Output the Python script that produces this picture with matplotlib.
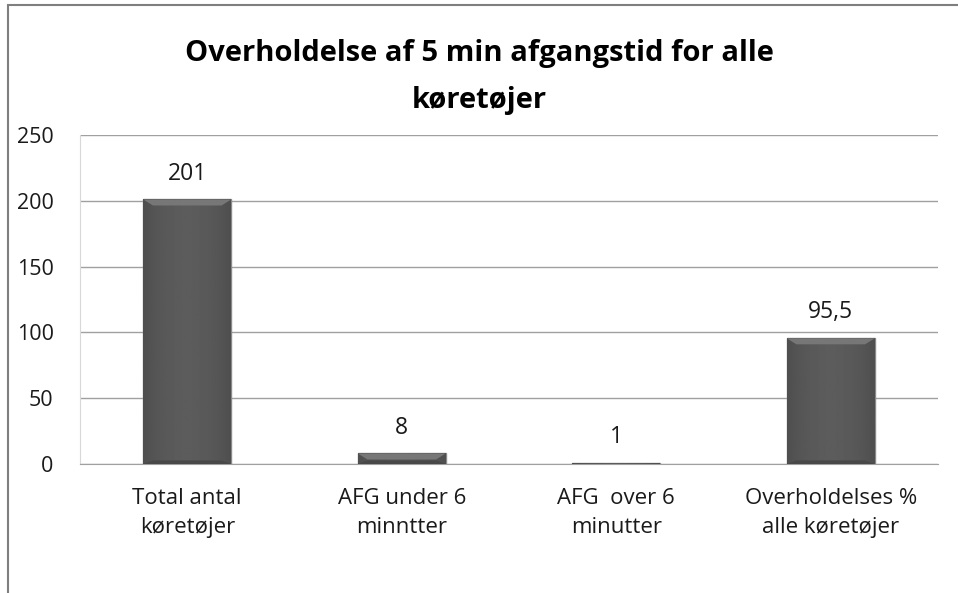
import matplotlib
matplotlib.use("Agg")
import matplotlib.pyplot as plt
from matplotlib.patches import Rectangle
import numpy as np

categories = ["Total antal\nkøretøjer", "AFG under 6\nminntter", "AFG  over 6\nminutter", "Overholdelses %\nalle køretøjer"]
values = [201, 8, 1, 95.5]
value_labels = ["201", "8", "1", "95,5"]
yticks = [0, 50, 100, 150, 200, 250]
title = "Overholdelse af 5 min afgangstid for alle\nkøretøjer"

plt.rcParams['font.family'] = ['Open Sans', 'DejaVu Sans']

fig = plt.figure(figsize=(9.58, 5.93), dpi=100)
ax = fig.add_axes([80/958, 1-464/593, 858/958, (464-135)/593])

x = list(range(len(values)))
bars = ax.bar(x, values, width=0.41, color="#5a5a5a", edgecolor="#8a8a8a", linewidth=1.0, zorder=3)

# horizontal gradient shading inside bars (darker edges, lighter middle)
grad = np.linspace(-1, 1, 64)
shade = 0.36 - 0.05 * np.abs(grad) ** 2
img = np.tile(shade, (2, 1))
for b in bars:
    x0, w, h = b.get_x(), b.get_width(), b.get_height()
    im = ax.imshow(img, cmap="gray", vmin=0, vmax=1, extent=[x0, x0 + w, 0, h],
                   aspect="auto", zorder=3.5, interpolation="bilinear")
    im.set_clip_path(b)
    if h > 3:
        bev = 6 * 250 / 329  # ~6 px in data units
        bx = 0.045
        top = plt.Polygon([[x0, h], [x0 + w, h], [x0 + w - bx, h - bev], [x0 + bx, h - bev]],
                          closed=True, facecolor="#777777", edgecolor="none", zorder=3.6)
        ax.add_patch(top)
        bot = plt.Polygon([[x0, 0], [x0 + w, 0], [x0 + w - bx, bev * 0.6], [x0 + bx, bev * 0.6]],
                          closed=True, facecolor="#484848", edgecolor="none", zorder=3.6)
        ax.add_patch(bot)

for b, lab in zip(bars, value_labels):
    ax.annotate(lab, (b.get_x() + b.get_width()/2, b.get_height()), xytext=(0, 10),
                textcoords="offset points", ha="center", va="bottom", fontsize=16.5, color="#1a1a1a")

ax.set_xlim(-0.5, len(values) - 0.5)
ax.set_ylim(0, 250)
ax.set_yticks(yticks)
ax.set_yticklabels([str(t) for t in yticks], fontsize=15.5, color="#1a1a1a")
ax.set_xticks(x)
ax.set_xticklabels(categories, fontsize=16, color="#1a1a1a", linespacing=1.55)
ax.tick_params(axis="y", length=0, pad=19)
ax.tick_params(axis="x", length=0, pad=17)
ax.yaxis.grid(True, color="#a0a0a0", linewidth=1.0, zorder=0)
for s in ["top", "right"]:
    ax.spines[s].set_visible(False)
ax.spines["bottom"].set_color("#a0a0a0")
ax.spines["left"].set_color("#d8d8d8")

fig.text(0.5, 1 - 77/593, title, ha="center", va="center", fontsize=21, fontweight="bold",
         linespacing=1.85, color="black")

# outer chart frame
fig.add_artist(Rectangle((8/958, -0.05), 2.0, 1.05 - 5/593, transform=fig.transFigure,
                         fill=False, edgecolor="#7f7f7f", linewidth=1.5))

fig.savefig("out.png", dpi=100)
